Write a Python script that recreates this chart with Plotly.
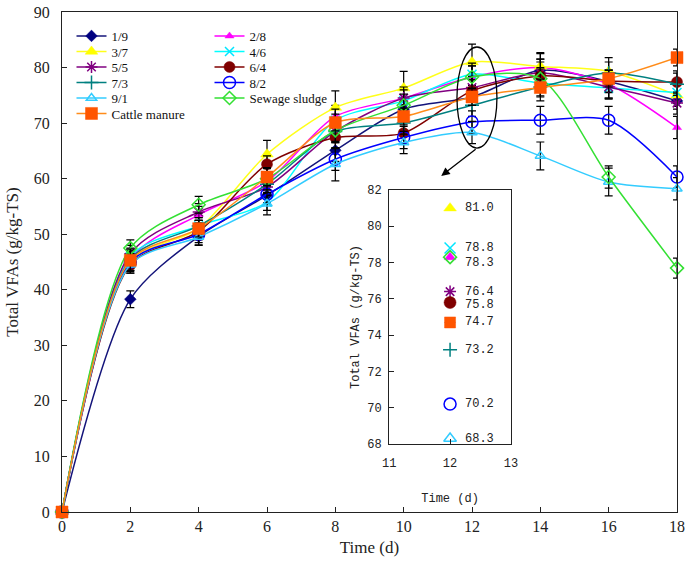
import plotly.graph_objects as go

# ---------------- data ----------------
days = [0, 2, 4, 6, 8, 10, 12, 14, 16, 18]

names = ["1/9", "2/8", "3/7", "4/6", "5/5", "6/4", "7/3", "8/2", "9/1",
         "Sewage sludge", "Cattle manure"]

v_1_9 = [0, 38.3, 49.6, 57.0, 65.1, 72.5, 74.7, 79.5, 77.5, 74.0]
v_2_8 = [0, 45.5, 53.5, 59.5, 71.2, 74.5, 78.3, 80.0, 77.0, 69.2]
v_3_7 = [0, 45.0, 51.0, 64.4, 72.8, 76.3, 81.0, 80.2, 79.3, 75.0]
v_4_6 = [0, 46.0, 51.5, 55.8, 70.5, 74.0, 78.8, 77.2, 76.3, 75.5]
v_5_5 = [0, 46.5, 54.0, 58.5, 68.5, 74.5, 76.4, 79.0, 76.5, 73.6]
v_6_4 = [0, 44.5, 50.5, 62.6, 67.4, 68.2, 75.8, 78.5, 77.6, 77.4]
v_7_3 = [0, 45.5, 51.5, 59.0, 68.5, 70.0, 73.2, 76.5, 79.0, 77.0]
v_8_2 = [0, 45.0, 50.0, 57.2, 63.5, 67.4, 70.2, 70.5, 70.5, 60.3]
v_9_1 = [0, 44.5, 49.5, 55.5, 62.6, 66.5, 68.3, 64.1, 59.4, 58.2]
v_sludge = [0, 47.5, 55.3, 60.0, 68.7, 73.2, 78.3, 78.0, 60.3, 43.9]
v_cattle = [0, 45.3, 51.0, 60.3, 70.1, 71.2, 74.7, 76.4, 78.0, 81.8]

e_1_9 = [0, 1.5, 1.5, 1.5, 2.0, 1.5, 1.5, 2.0, 2.0, 1.5]
e_2_8 = [0, 1.5, 1.5, 1.5, 2.0, 2.0, 2.0, 2.5, 2.5, 2.0]
e_3_7 = [0, 1.5, 1.5, 2.5, 3.0, 3.0, 3.2, 2.5, 2.5, 2.0]
e_4_6 = [0, 1.5, 1.5, 1.5, 2.0, 2.0, 2.0, 2.5, 2.0, 2.0]
e_5_5 = [0, 1.5, 1.5, 1.5, 2.0, 2.0, 2.0, 2.5, 2.0, 2.0]
e_6_4 = [0, 1.5, 1.5, 1.5, 2.0, 2.0, 2.0, 2.5, 2.0, 2.0]
e_7_3 = [0, 1.5, 1.5, 1.5, 2.0, 2.0, 2.0, 2.5, 2.0, 2.0]
e_8_2 = [0, 1.5, 1.5, 1.5, 2.0, 2.0, 2.0, 2.5, 2.5, 2.0]
e_9_1 = [0, 1.5, 1.5, 2.0, 3.0, 2.0, 2.0, 2.5, 2.5, 2.0]
e_sludge = [0, 1.5, 1.5, 2.0, 2.0, 2.0, 2.0, 2.0, 2.0, 1.8]
e_cattle = [0, 2.0, 1.5, 1.5, 1.5, 1.5, 1.5, 1.5, 1.5, 1.5]

values = [v_1_9, v_2_8, v_3_7, v_4_6, v_5_5, v_6_4, v_7_3, v_8_2, v_9_1, v_sludge, v_cattle]
errors = [e_1_9, e_2_8, e_3_7, e_4_6, e_5_5, e_6_4, e_7_3, e_8_2, e_9_1, e_sludge, e_cattle]

inset_day = 12
inset_ticks = [68, 70, 72, 74, 76, 78, 80, 82]
inset_xticks = [11, 12, 13]

# ---------------- styles ----------------
line_colors = ["#14147a", "#ff00ff", "#ffff1a", "#00ffff", "#800080", "#800000",
               "#008080", "#0000ff", "#33ccff", "#33e033", "#ff8c1a"]
marker_colors = ["#000080", "#ff00ff", "#ffff00", "#00e5ff", "#800080", "#800000",
                 "#008080", "#0000ff", "#33ccff", "#33e033", "#ff5500"]
symbols = ["diamond", "triangle-up", "triangle-up", "x-thin", "asterisk", "circle",
           "cross-thin", "circle-open", "triangle-up-open", "diamond-open", "square"]
sizes = [9, 8, 11, 9, 10, 11, 10, 12, 9, 10, 12]
inset_sizes = [8, 10, 11, 11, 10, 12, 10, 12, 11, 10, 11]

FIG_W, FIG_H = 685, 569
PLOT_L, PLOT_W, PLOT_T, PLOT_H = 62, 615, 12, 500
row_px = [36, 51.5, 67, 82.5, 98, 113.5]
col_text_px = [112, 250]

serif = "Liberation Serif"
mono = "Liberation Mono"

fig = go.Figure()
legend_layouts = {}

for i, name in enumerate(names):
    open_sym = symbols[i].endswith("open") or symbols[i] in ("x-thin", "asterisk", "cross-thin")
    lg = "legend" if i == 0 else f"legend{i + 1}"
    col = i % 2
    row = i // 2
    legend_layouts[lg] = dict(
        x=(col_text_px[col] - 40.5 - PLOT_L) / PLOT_W,
        y=(PLOT_T + PLOT_H - row_px[row]) / PLOT_H,
        xanchor="left", yanchor="middle", bgcolor="rgba(0,0,0,0)",
        font=dict(family=serif, size=13, color="#111"), itemsizing="trace",
    )
    fig.add_trace(go.Scatter(
        x=days, y=values[i], name=name, mode="lines+markers",
        line=dict(color=line_colors[i], width=1.5, shape="spline", smoothing=0.8),
        marker=dict(symbol=symbols[i], size=sizes[i], color=marker_colors[i],
                    line=dict(color=marker_colors[i], width=1.5 if open_sym else 0.5)),
        error_y=dict(type="data", array=errors[i], color="black", thickness=1.2, width=4),
        cliponaxis=False, legend=lg,
    ))

# inset markers (values at day 12)
idx = days.index(inset_day)
for i, name in enumerate(names):
    open_sym = symbols[i].endswith("open") or symbols[i] in ("x-thin", "asterisk", "cross-thin")
    fig.add_trace(go.Scatter(
        x=[inset_day], y=[values[i][idx]], mode="markers", showlegend=False,
        xaxis="x2", yaxis="y2",
        marker=dict(symbol=symbols[i], size=inset_sizes[i], color=marker_colors[i],
                    line=dict(color=marker_colors[i], width=1.5 if open_sym else 0.5)),
    ))

# inset value labels (one per distinct value)
label_shift = {"2/8": -6, "6/4": -3}
seen = set()
for i in range(len(names)):
    v = values[i][idx]
    if v in seen:
        continue
    seen.add(v)
    fig.add_annotation(
        x=inset_day, y=v, xref="x2", yref="y2", text=f"{v:.1f}", showarrow=False,
        xanchor="left", xshift=13, yshift=label_shift.get(names[i], 0),
        font=dict(family=mono, size=12, color="#222"),
    )

# ellipse & arrow
fig.add_shape(type="circle", xref="x", yref="y", x0=11.56, x1=12.73, y0=65.5, y1=83.7,
              line=dict(color="black", width=1.3))
fig.add_annotation(x=11.1, y=60.5, ax=12.15, ay=65.5, xref="x", yref="y",
                   axref="x", ayref="y", text="", showarrow=True,
                   arrowhead=2, arrowsize=1.3, arrowwidth=1.3, arrowcolor="black")

axis_common = dict(showgrid=False, zeroline=False, showline=True, linecolor="#222",
                   linewidth=1.3, mirror=True, ticks="inside", ticklen=5,
                   tickcolor="#222", automargin=False)

fig.update_layout(
    width=FIG_W, height=FIG_H,
    margin=dict(l=PLOT_L, r=FIG_W - PLOT_L - PLOT_W, t=PLOT_T,
                b=FIG_H - PLOT_T - PLOT_H),
    paper_bgcolor="white", plot_bgcolor="white",
    font=dict(family=serif, color="#222"),
    xaxis=dict(range=[0, 18], dtick=2, tick0=0, **axis_common,
               tickfont=dict(family=serif, size=16),
               title=dict(text="Time (d)", font=dict(family=serif, size=17), standoff=6)),
    yaxis=dict(range=[0, 90], dtick=10, tick0=0, **axis_common,
               tickfont=dict(family=serif, size=16), ticklabelstandoff=8,
               title=dict(text="Total VFAs (g/kg-TS)", font=dict(family=serif, size=17),
                          standoff=10)),
    xaxis2=dict(domain=[0.532, 0.730], anchor="y2", range=[11, 13],
                tickvals=inset_xticks, **axis_common,
                tickfont=dict(family=mono, size=12), ticklabelstandoff=7,
                title=dict(text="Time (d)", font=dict(family=mono, size=12), standoff=24)),
    yaxis2=dict(domain=[0.136, 0.644], anchor="x2", range=[68, 82],
                tickvals=inset_ticks, **axis_common,
                tickfont=dict(family=mono, size=12), ticklabelstandoff=4,
                title=dict(text="Total VFAs (g/kg-TS)", font=dict(family=mono, size=12),
                           standoff=5)),
    showlegend=True,
    hovermode=False,
    **legend_layouts,
)

fig.write_html(
    "out.html",
    config={"displayModeBar": False},
    post_script="document.body.style.margin='0';document.body.style.overflow='hidden';",
)
